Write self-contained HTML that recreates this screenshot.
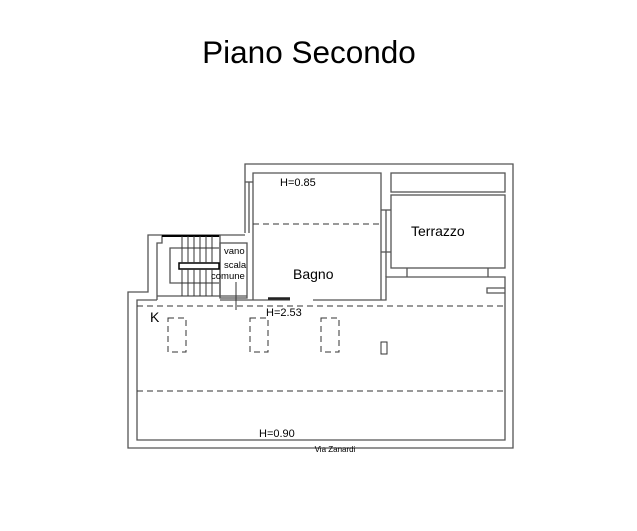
<!DOCTYPE html>
<html><head><style>
html,body{margin:0;padding:0;background:#fff;width:637px;height:531px;overflow:hidden}
svg{display:block}
text{font-family:"Liberation Sans",Arial,sans-serif;fill:#000}
</style></head><body>
<svg width="637" height="531" viewBox="0 0 637 531" xmlns="http://www.w3.org/2000/svg">
<text x="309" y="63" font-size="31.5" text-anchor="middle">Piano Secondo</text>
<g fill="none" stroke="#555" stroke-width="1.3">
<polyline points="245,233 245,164 513,164 513,448 128,448 128,292 148,292 148,235 245,235"/>
<polyline points="157,300 137,300 137,440 505,440 505,277 386,277 386,300 313,300"/>
<line x1="253" y1="300" x2="290" y2="300"/>
<line x1="220" y1="300" x2="253" y2="300"/>
<polyline points="253,300 253,173 381,173 381,300"/>
<line x1="245" y1="182" x2="253" y2="182"/>
<line x1="249" y1="182" x2="249" y2="233"/>
<line x1="381" y1="210" x2="391" y2="210"/>
<line x1="381" y1="252" x2="391" y2="252"/>
<line x1="386" y1="210" x2="386" y2="252"/>
<line x1="386" y1="252" x2="386" y2="277"/>
<rect x="391" y="173" width="114" height="19"/>
<rect x="391" y="195" width="114" height="73"/>
<line x1="407" y1="268" x2="407" y2="277"/>
<line x1="488" y1="268" x2="488" y2="277"/>
<polyline points="505,288 487,288 487,293 505,293"/>
<polyline points="157,300 157,243 162,243 162,236 220,236 220,298"/>
<rect x="220" y="243" width="27" height="55"/>
<polyline points="219,248 170,248 170,283 219,283"/>
<rect x="179" y="263" width="40" height="6" stroke="#000" stroke-width="1.5"/>
<line x1="157" y1="296" x2="247" y2="296"/>
</g>
<line x1="162" y1="236" x2="219" y2="236" stroke="#000" stroke-width="2"/>
<line x1="268" y1="298.5" x2="290" y2="298.5" stroke="#222" stroke-width="2.5"/>
<g stroke="#333" stroke-width="1">
<line x1="182" y1="236" x2="182" y2="263"/><line x1="188" y1="236" x2="188" y2="263"/>
<line x1="194" y1="236" x2="194" y2="263"/><line x1="200" y1="236" x2="200" y2="263"/>
<line x1="206" y1="236" x2="206" y2="263"/><line x1="212" y1="236" x2="212" y2="263"/>
<line x1="182" y1="269" x2="182" y2="296"/><line x1="188" y1="269" x2="188" y2="296"/>
<line x1="194" y1="269" x2="194" y2="296"/><line x1="200" y1="269" x2="200" y2="296"/>
<line x1="206" y1="269" x2="206" y2="296"/><line x1="212" y1="269" x2="212" y2="296"/>
<line x1="236" y1="282" x2="236" y2="310"/>
</g>
<g fill="none" stroke="#333" stroke-width="1" stroke-dasharray="6,4">
<line x1="253" y1="224" x2="381" y2="224"/>
<line x1="137" y1="306" x2="505" y2="306"/>
<line x1="137" y1="391" x2="505" y2="391"/>
<rect x="168" y="318" width="18" height="34"/>
<rect x="250" y="318" width="18" height="34"/>
<rect x="321" y="318" width="18" height="34"/>
</g>
<rect x="381" y="342" width="6" height="12" fill="none" stroke="#333"/>
<g font-size="9.5">
<text x="224" y="254">vano</text>
<text x="224" y="268">scala</text>
<text x="211" y="279">comune</text>
</g>
<text x="280" y="186" font-size="11">H=0.85</text>
<text x="293" y="279" font-size="14">Bagno</text>
<text x="411" y="236" font-size="14">Terrazzo</text>
<text x="150" y="322" font-size="14">K</text>
<text x="266" y="316" font-size="11">H=2.53</text>
<text x="259" y="437" font-size="11">H=0.90</text>
<text x="335" y="452" font-size="8" text-anchor="middle">Via Zanardi</text>
</svg>
</body></html>
